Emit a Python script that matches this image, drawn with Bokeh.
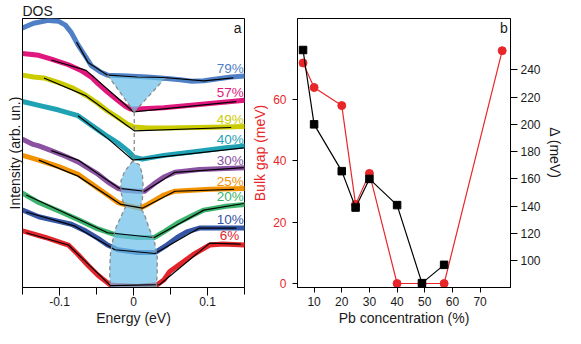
import math
from bokeh.plotting import figure
from bokeh.models import Range1d, LinearAxis, FixedTicker, Label, Title
from bokeh.layouts import row
from bokeh.embed import file_html
from bokeh.resources import INLINE

FONT = "Liberation Sans"

# ---------------- panel a: DOS spectra ----------------
pct_labels = ["79%", "57%", "49%", "40%", "30%", "25%", "20%", "10%", "6%"]
curve_colors = ["#4f80c6", "#e0177c", "#cbcc00", "#1ea2b4", "#8b52a1",
                "#f39200", "#3bb36c", "#3455a4", "#e3242b"]
label_x = [0.149, 0.149, 0.149, 0.149, 0.149, 0.149, 0.149, 0.149, 0.143]
label_y = [232, 207, 178, 157, 135, 112, 96, 72, 55]

E_79 = [-0.15, -0.135, -0.115, -0.101, -0.092, -0.084, -0.075, -0.065, -0.057, -0.044,
        -0.035, -0.008, 0.019, 0.045, 0.063, 0.079, 0.095, 0.112, 0.132, 0.15]
I_79 = [275, 280, 283, 282, 278, 270, 257, 245, 235, 228,
        225, 224, 223, 221.5, 220, 218.5, 219, 221, 223, 224]
FE_79 = [-0.077, -0.061, -0.035, 0.005, 0.041, 0.095, 0.135]
FI_79 = [260, 238, 225, 223, 222.5, 219, 222]

E_57 = [-0.15, -0.128, -0.111, -0.088, -0.071, -0.057, -0.048, -0.035, -0.021, -0.011,
        -0.004, 0.005, 0.041, 0.085, 0.125, 0.15]
I_57 = [248, 246, 242, 236, 230, 223, 216, 207, 198, 192,
        189, 189, 190.5, 193.5, 196.5, 198.5]
FE_57 = [-0.111, -0.064, 0.0, 0.139]
FI_57 = [241, 230, 186, 197]

E_49 = [-0.15, -0.135, -0.121, -0.101, -0.081, -0.065, -0.048, -0.035, -0.021, -0.008,
        0.001, 0.019, 0.045, 0.085, 0.125, 0.15]
I_49 = [225, 223, 222, 217, 211, 204, 195, 187, 180, 173,
        170, 169, 169, 169.5, 170, 170.5]
FE_49 = [-0.121, -0.064, 0.001, 0.132]
FI_49 = [222, 203, 166, 169.5]

E_40 = [-0.15, -0.128, -0.101, -0.075, -0.048, -0.035, -0.021, -0.008, 0.001, 0.012,
        0.041, 0.085, 0.125, 0.15]
I_40 = [197, 193, 188, 182, 167, 160, 153, 145, 138, 136,
        140, 144, 148, 150]
FE_40 = [-0.075, -0.035, -0.001, 0.149]
FI_40 = [182, 158, 135, 148]

E_30 = [-0.15, -0.137, -0.128, -0.111, -0.092, -0.075, -0.048, -0.035, -0.021, -0.012,
        0.005, 0.015, 0.028, 0.041, 0.056, 0.089, 0.125, 0.15]
I_30 = [157, 152, 150, 145, 139, 133, 120, 112, 105, 103,
        102, 102, 110, 117, 122, 125, 126, 127]
FE_30 = [-0.111, -0.075, -0.019, 0.015, 0.056, 0.149]
FI_30 = [145, 135, 105, 102, 122, 127]

E_25 = [-0.15, -0.128, -0.101, -0.075, -0.048, -0.035, -0.021, -0.008, 0.009, 0.019,
        0.028, 0.041, 0.056, 0.103, 0.15]
I_25 = [140, 135, 128, 120, 105, 98, 90, 87, 84, 88,
        92, 98, 102, 104, 105]
FE_25 = [-0.128, -0.075, -0.017, 0.012, 0.056, 0.136]
FI_25 = [135, 118, 88, 84, 102, 104]

E_20 = [-0.15, -0.128, -0.101, -0.075, -0.048, -0.021, 0.005, 0.028, 0.041, 0.059,
        0.079, 0.095, 0.125, 0.15]
I_20 = [100, 90, 81, 72, 62, 55, 53, 53, 59, 68,
        76, 82, 86, 88]
FE_20 = [-0.145, -0.035, 0.028, 0.095, 0.149]
FI_20 = [98, 58, 53, 82, 89]

E_10 = [-0.15, -0.128, -0.101, -0.084, -0.065, -0.048, -0.035, -0.021, 0.005, 0.029,
        0.045, 0.059, 0.072, 0.089, 0.125, 0.15]
I_10 = [82, 75, 70, 67, 60, 52, 45, 40, 37, 37,
        45, 53, 59, 63, 63, 63]
FE_10 = [-0.145, -0.079, -0.025, 0.029, 0.089, 0.139]
FI_10 = [80, 65, 40, 36, 63, 63]

E_6 = [-0.15, -0.119, -0.088, -0.075, -0.061, -0.048, -0.032, -0.021, 0.005, 0.032,
       0.041, 0.049, 0.065, 0.081, 0.103, 0.121, 0.15]
I_6 = [60, 53, 45, 35, 23, 13, 3, 2, 1, 3,
       8, 17, 26, 35, 45, 46, 45]
FE_6 = [-0.145, -0.088, -0.031, 0.035, 0.103, 0.145]
FI_6 = [58, 45, 2, 3, 47, 46]

# gap regions (light blue shapes)
V_E = [-0.035, 0.0, 0.043, 0.001]
V_I = [225, 224, 222, 186]
STEM_E = [0.001, 0.001]
STEM_I = [186, 134]
BL_E = [-0.001, -0.012, -0.017, -0.017, -0.015, -0.011, -0.017, -0.024, -0.028, -0.031,
        -0.032, -0.032, -0.031]
BL_I = [134, 123, 113, 103, 93, 85, 75, 63, 50, 37, 23, 10, 0]
BR_E = [0.031, 0.032, 0.032, 0.028, 0.021, 0.015, 0.009, 0.012, 0.013, 0.012, 0.008, -0.001]
BR_I = [0, 17, 33, 50, 63, 77, 85, 93, 107, 120, 130, 134]

# ---------------- panel b: gap vs Pb ----------------
pb_gap = [6, 10, 20, 25, 30, 40, 49, 57, 78]
bulk_gap = [71.9, 63.9, 58.0, 25.8, 35.9, 0, 0, 0, 75.9]
pb_delta = [6, 10, 20, 25, 30, 40, 49, 57]
delta = [254.5, 200, 165.7, 139, 160, 140.8, 83.6, 97]

RED = "#e8262a"
TXT = "#1a1a1a"


def style_axis(ax, tick_out, standoff, label_color=TXT, title=None, title_color=TXT,
               title_standoff=2):
    ax.major_tick_out = tick_out
    ax.major_tick_in = 0
    ax.major_label_standoff = standoff
    ax.major_label_text_font = FONT
    ax.major_label_text_font_size = "12px"
    ax.major_label_text_color = label_color
    ax.axis_line_color = "black"
    ax.major_tick_line_color = "black"
    if title is not None:
        ax.axis_label = title
        ax.axis_label_text_font = FONT
        ax.axis_label_text_font_size = "14px"
        ax.axis_label_text_font_style = "normal"
        ax.axis_label_text_color = title_color
        ax.axis_label_standoff = title_standoff


# ---- figure a ----
p1 = figure(width=249, height=328, x_range=Range1d(-0.15, 0.15), y_range=Range1d(0, 285),
            output_backend="svg", toolbar_location=None,
            min_border_left=22, min_border_right=5, min_border_top=0, min_border_bottom=0)
p1.title = Title(text="DOS", text_font=FONT, text_font_size="14px", text_font_style="normal",
                 text_color=TXT, align="left", offset=0, standoff=0)
p1.grid.visible = False
p1.outline_line_color = "black"

xa = p1.xaxis[0]
xa.ticker = FixedTicker(ticks=[-0.1, 0, 0.1], minor_ticks=[-0.15, -0.05, 0.05, 0.15])
xa.major_label_overrides = {-0.1: "-0.1", 0: "0", 0.1: "0.1"}
style_axis(xa, 8, 1, title="Energy (eV)", title_standoff=1)
xa.minor_tick_out = 7
xa.minor_tick_in = 0
xa.minor_tick_line_color = "black"

ya = p1.yaxis[0]
ya.ticker = FixedTicker(ticks=[])
style_axis(ya, 0, 0, title="Intensity (arb. un.)", title_standoff=0)
ya.minor_tick_line_color = None

curves = [(E_79, I_79), (E_57, I_57), (E_49, I_49), (E_40, I_40), (E_30, I_30),
          (E_25, I_25), (E_20, I_20), (E_10, I_10), (E_6, I_6)]
fits = [(FE_79, FI_79), (FE_57, FI_57), (FE_49, FI_49), (FE_40, FI_40), (FE_30, FI_30),
        (FE_25, FI_25), (FE_20, FI_20), (FE_10, FI_10), (FE_6, FI_6)]

for (ex, iy), col in zip(curves, curve_colors):
    p1.line(ex, iy, line_color=col, line_width=5, line_join="round", line_cap="round")

GAP_FILL = "#6ec1ea"
p1.patch(V_E, V_I, fill_color=GAP_FILL, fill_alpha=0.72, line_color=None)
p1.patch(BL_E + BR_E, BL_I + BR_I, fill_color=GAP_FILL, fill_alpha=0.72, line_color=None)

for ex, iy in fits:
    p1.line(ex, iy, line_color="black", line_width=1.2)

DASH = "#8a8a8a"
p1.line([V_E[0], V_E[3]], [V_I[0], V_I[3]], line_color=DASH, line_width=1.3, line_dash="4 3")
p1.line([V_E[2], V_E[3]], [V_I[2], V_I[3]], line_color=DASH, line_width=1.3, line_dash="4 3")
p1.line(STEM_E, STEM_I, line_color=DASH, line_width=1.3, line_dash="4 3")
p1.line(BL_E, BL_I, line_color=DASH, line_width=1.3, line_dash="4 3")
p1.line(BR_E, BR_I, line_color=DASH, line_width=1.3, line_dash="4 3")

for t, lx, ly, col in zip(pct_labels, label_x, label_y, curve_colors):
    p1.add_layout(Label(x=lx, y=ly, text=t, text_font=FONT, text_font_size="13.5px",
                        text_color=col, text_align="right", text_baseline="middle"))
p1.add_layout(Label(x=0.146, y=283, text="a", text_font=FONT, text_font_size="14px",
                    text_color=TXT, text_align="right", text_baseline="top"))

# ---- figure b ----
p2 = figure(width=316, height=328, x_range=Range1d(4, 81), y_range=Range1d(-1.3, 86.4),
            output_backend="svg", toolbar_location=None,
            min_border_left=45, min_border_right=48, min_border_top=17, min_border_bottom=0)
p2.grid.visible = False
p2.outline_line_color = "black"
p2.extra_y_ranges = {"delta": Range1d(80.4, 277.6)}

bx = p2.xaxis[0]
bx.ticker = FixedTicker(ticks=[10, 20, 30, 40, 50, 60, 70])
style_axis(bx, 5, 4, title="Pb concentration (%)", title_standoff=1)
bx.minor_tick_line_color = None

ly_ax = p2.yaxis[0]
ly_ax.ticker = FixedTicker(ticks=[0, 20, 40, 60])
style_axis(ly_ax, 5, 6, label_color=RED, title="Bulk gap (meV)", title_color=RED,
           title_standoff=2)
ly_ax.minor_tick_line_color = None

ry = LinearAxis(y_range_name="delta",
                ticker=FixedTicker(ticks=[100, 120, 140, 160, 180, 200, 220, 240]))
style_axis(ry, 7, 3, title="\u0394 (meV)", title_standoff=3)
ry.minor_tick_line_color = None
p2.add_layout(ry, "right")

p2.line(pb_gap, bulk_gap, line_color=RED, line_width=1.2)
p2.scatter(pb_gap, bulk_gap, marker="circle", size=8, fill_color=RED, line_color=RED)
p2.line(pb_delta, delta, line_color="black", line_width=1.2, y_range_name="delta")
p2.scatter(pb_delta, delta, marker="square", size=7.5, fill_color="black", line_color="black",
           y_range_name="delta")
p2.add_layout(Label(x=80.0, y=85.8, text="b", text_font=FONT, text_font_size="14px",
                    text_color=TXT, text_align="right", text_baseline="top"))

layout = row(p1, p2)
open("out.html", "w").write(file_html(layout, INLINE))
